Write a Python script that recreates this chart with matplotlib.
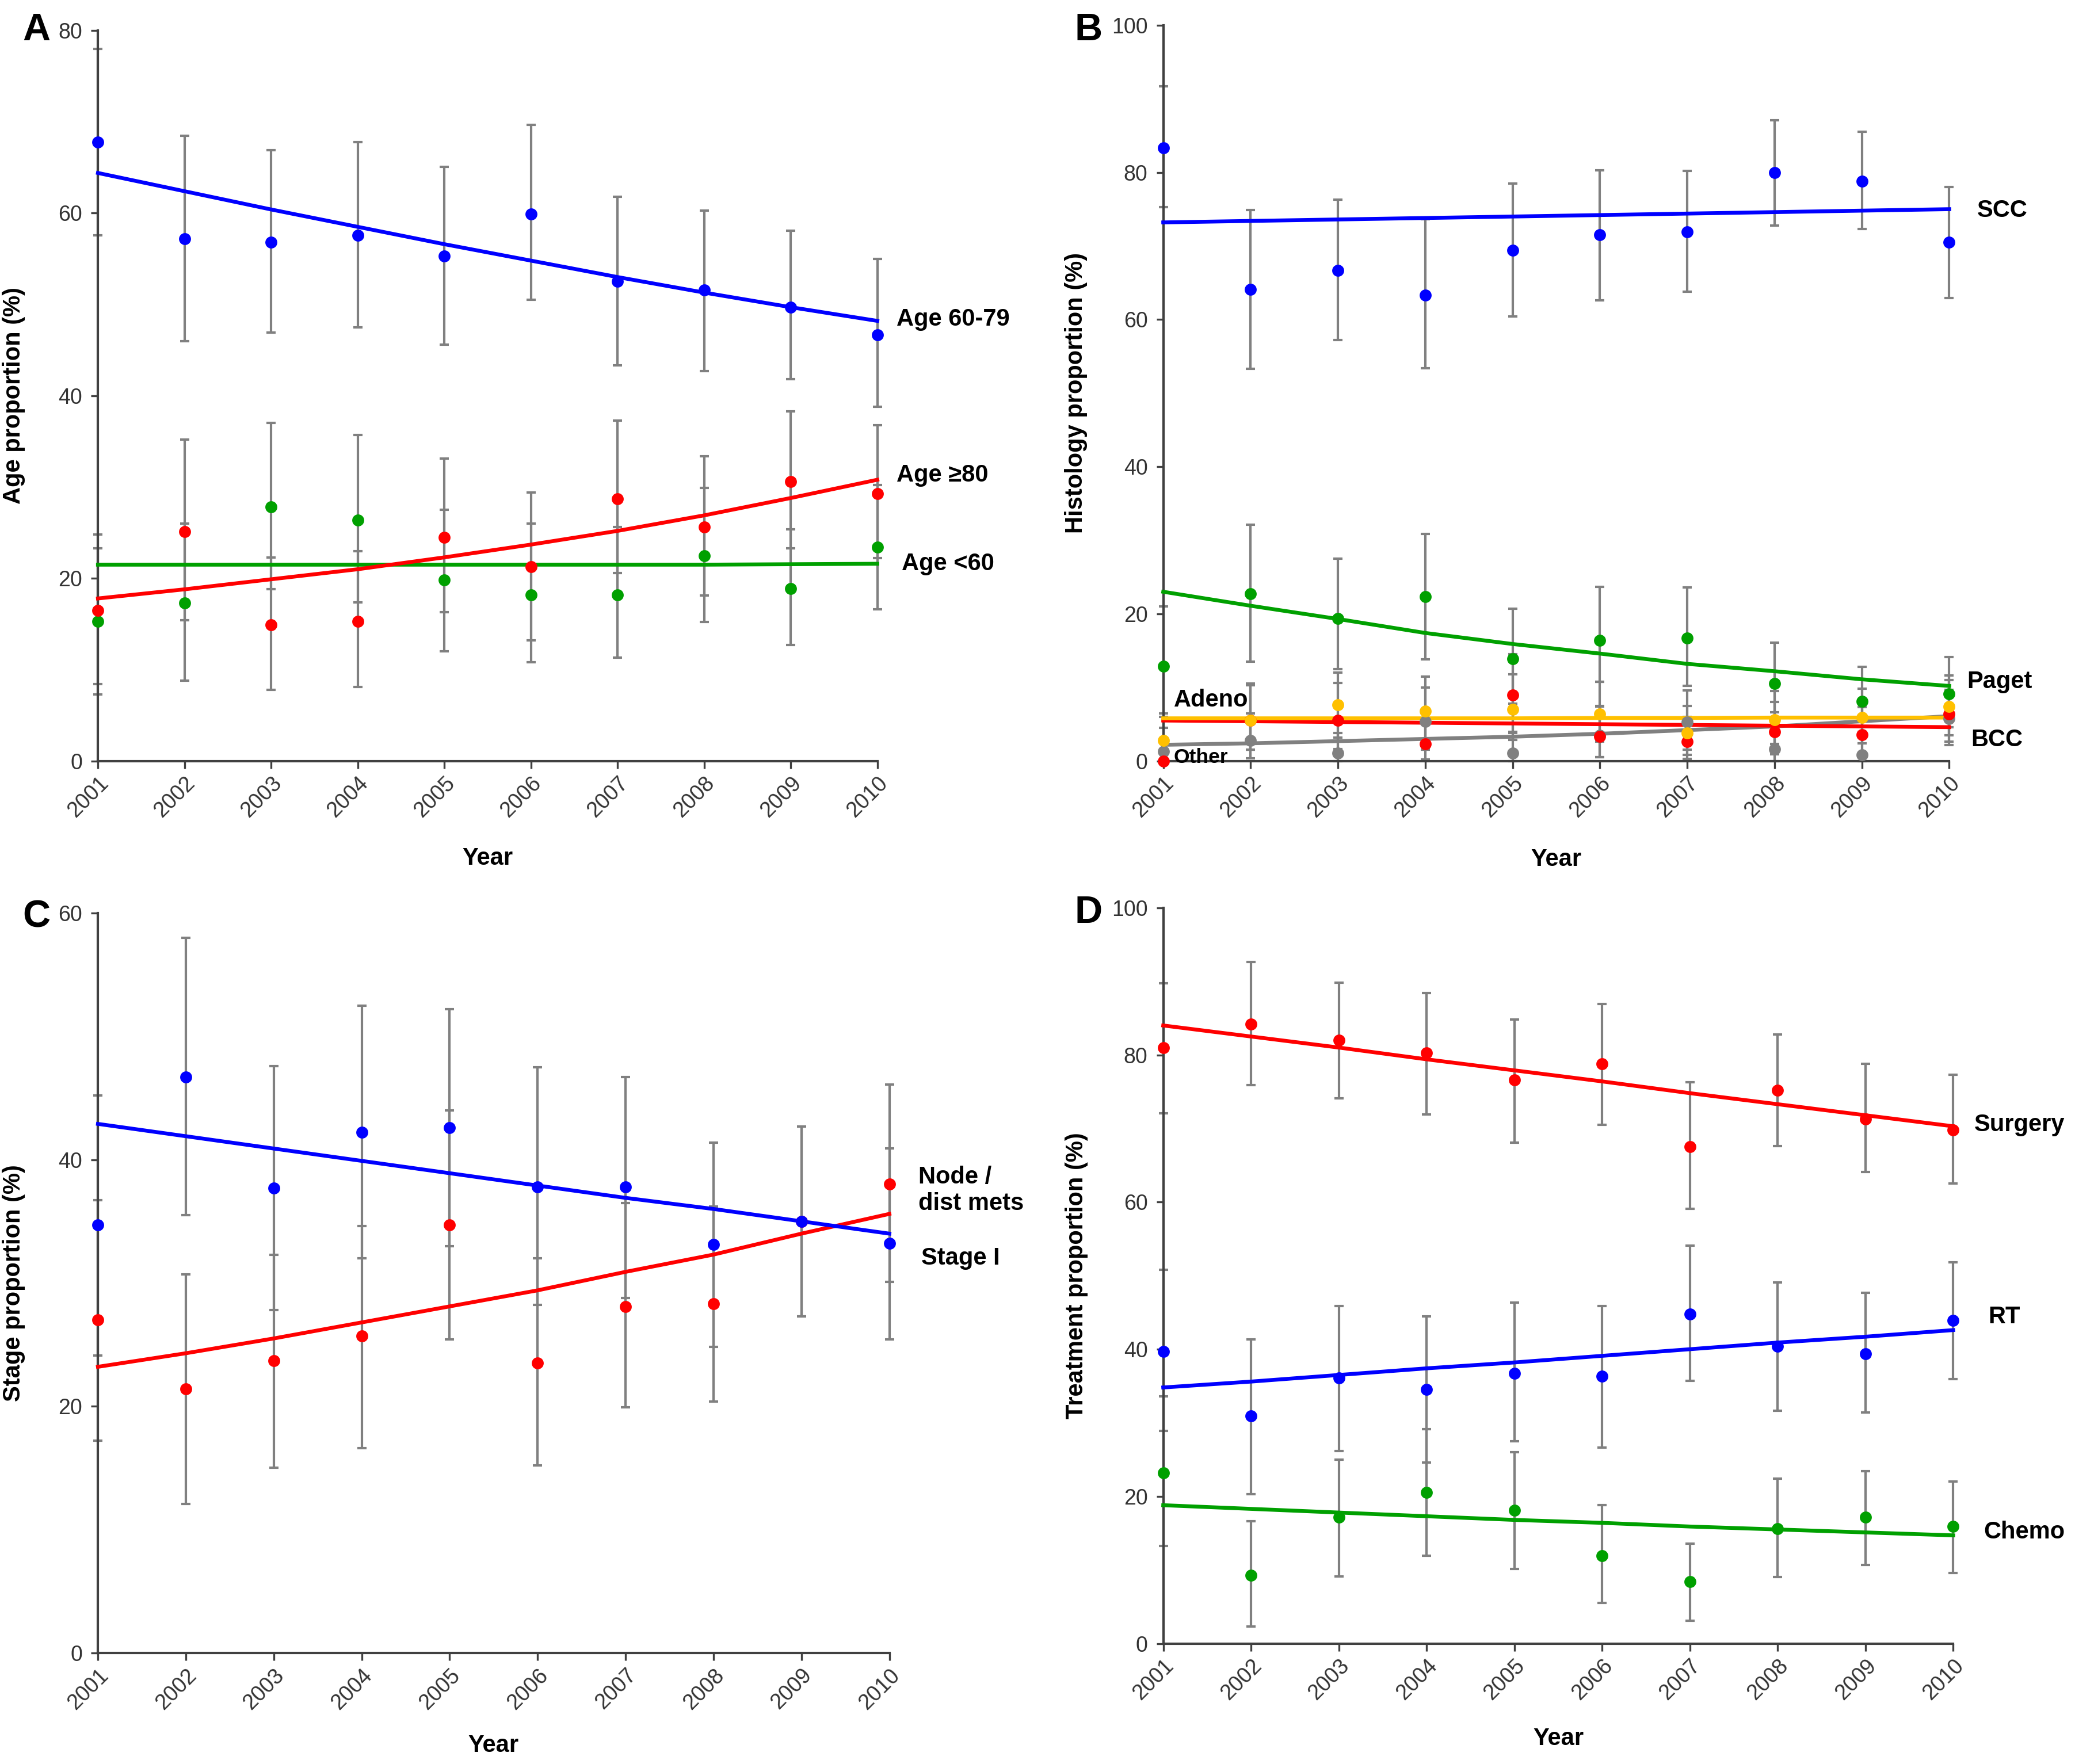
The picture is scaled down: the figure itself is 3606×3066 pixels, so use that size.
import matplotlib
matplotlib.use("Agg")
import matplotlib.pyplot as plt

plt.rcParams['font.family'] = ['Liberation Sans Narrow', 'Liberation Sans', 'DejaVu Sans']

years = [2001, 2002, 2003, 2004, 2005, 2006, 2007, 2008, 2009, 2010]

# Panel A - age
age_mid = [67.8, 57.2, 56.8, 57.6, 55.3, 59.9, 52.5, 51.6, 49.7, 46.7]
age_mid_lo = [57.6, 46.0, 46.9, 47.5, 45.6, 50.5, 43.3, 42.7, 41.8, 38.8]
age_mid_hi = [78.0, 68.5, 66.9, 67.8, 65.1, 69.7, 61.8, 60.3, 58.1, 55.0]
age_mid_trend = [64.4, 62.4, 60.4, 58.5, 56.6, 54.8, 53.0, 51.3, 49.7, 48.2]
age_old = [16.5, 25.1, 14.9, 15.3, 24.5, 21.3, 28.7, 25.6, 30.6, 29.3]
age_old_lo = [8.4, 15.4, 7.8, 8.1, 16.3, 13.2, 20.6, 18.1, 23.3, 22.2]
age_old_hi = [24.8, 35.2, 22.3, 23.0, 33.1, 29.4, 37.3, 33.4, 38.3, 36.8]
age_old_trend = [17.8, 18.8, 19.9, 21.0, 22.3, 23.7, 25.2, 26.9, 28.8, 30.8]
age_young = [15.3, 17.3, 27.8, 26.4, 19.8, 18.2, 18.2, 22.5, 18.9, 23.4]
age_young_lo = [7.3, 8.8, 18.8, 17.4, 12.0, 10.8, 11.3, 15.2, 12.7, 16.6]
age_young_hi = [23.3, 26.0, 37.0, 35.7, 27.5, 26.0, 25.6, 29.9, 25.4, 30.2]
age_young_trend = [21.5, 21.5, 21.5, 21.5, 21.5, 21.5, 21.5, 21.5, 21.55, 21.6]

# Panel B - histology
scc = [83.3, 64.1, 66.7, 63.3, 69.4, 71.5, 71.9, 80.0, 78.8, 70.5]
scc_lo = [75.3, 53.3, 57.2, 53.4, 60.4, 62.6, 63.8, 72.8, 72.3, 62.9]
scc_hi = [91.7, 74.9, 76.3, 73.6, 78.5, 80.3, 80.2, 87.1, 85.5, 78.0]
scc_trend = [73.2, 73.4, 73.6, 73.8, 74.0, 74.2, 74.4, 74.6, 74.8, 75.0]
paget = [12.9, 22.7, 19.4, 22.3, 13.9, 16.4, 16.7, 10.5, 8.1, 9.1]
paget_lo = [6.5, 13.5, 12.5, 13.8, 7.8, 10.8, 10.2, 6.6, 4.0, 4.6]
paget_hi = [21.0, 32.1, 27.5, 30.9, 20.7, 23.7, 23.6, 16.1, 12.8, 14.1]
paget_trend = [23.0, 21.1, 19.3, 17.4, 15.9, 14.6, 13.2, 12.2, 11.1, 10.2]
adeno = [2.8, 5.5, 7.6, 6.8, 7.0, 6.4, 3.8, 5.6, 5.9, 7.4]
adeno_lo = [0.3, 1.5, 3.2, 2.8, 2.9, 2.6, 0.8, 2.3, 2.4, 3.5]
adeno_hi = [6.0, 10.3, 12.0, 11.5, 11.8, 10.8, 7.5, 9.5, 9.8, 11.6]
adeno_trend = [5.8, 5.8, 5.8, 5.8, 5.8, 5.85, 5.85, 5.9, 5.9, 5.9]
bcc = [0.0, 5.5, 5.5, 2.3, 9.0, 3.3, 2.6, 4.0, 3.6, 6.4]
bcc_lo = [0.0, 1.5, 1.6, 0.2, 4.0, 0.5, 0.3, 0.9, 0.6, 2.6]
bcc_hi = [0.0, 10.5, 10.6, 5.8, 14.5, 7.5, 6.0, 8.0, 7.3, 11.0]
bcc_trend = [5.5, 5.4, 5.3, 5.2, 5.1, 5.0, 4.9, 4.8, 4.7, 4.6]
other = [1.3, 2.8, 1.1, 5.4, 1.1, 3.5, 5.3, 1.6, 0.8, 5.8]
other_lo = [0.0, 0.4, 0.0, 1.5, 0.0, 0.5, 1.5, 0.0, 0.0, 2.2]
other_hi = [4.5, 6.5, 3.8, 10.0, 3.8, 7.4, 9.6, 4.8, 3.2, 9.7]
other_trend = [2.2, 2.4, 2.7, 3.0, 3.3, 3.7, 4.2, 4.7, 5.4, 6.1]

# Panel C - stage
stage1 = [34.7, 46.7, 37.7, 42.2, 42.6, 37.8, 37.8, 33.1, 35.0, 33.2]
stage1_lo = [24.1, 35.5, 27.8, 32.0, 33.0, 28.2, 28.8, 24.8, 27.3, 25.4]
stage1_hi = [45.2, 58.0, 47.6, 52.5, 52.2, 47.5, 46.7, 41.4, 42.7, 40.9]
stage1_trend = [42.9, 41.9, 40.9, 39.9, 38.9, 37.9, 36.9, 36.0, 35.0, 34.0]
node = [27.0, 21.4, 23.7, 25.7, 34.7, 23.5, 28.1, 28.3, 35.0, 38.0]
node_lo = [17.2, 12.1, 15.0, 16.6, 25.4, 15.2, 19.9, 20.4, 27.3, 30.1]
node_hi = [36.7, 30.7, 32.3, 34.6, 44.0, 32.0, 36.5, 36.2, 42.7, 46.1]
node_trend = [23.2, 24.3, 25.5, 26.8, 28.1, 29.4, 30.9, 32.3, 34.0, 35.6]

# Panel D - treatment
surgery = [81.0, 84.2, 82.0, 80.3, 76.6, 78.8, 67.5, 75.2, 71.3, 69.8]
surgery_lo = [72.1, 75.9, 74.1, 71.9, 68.1, 70.5, 59.1, 67.6, 64.1, 62.5]
surgery_hi = [89.7, 92.6, 89.8, 88.4, 84.8, 86.9, 76.3, 82.8, 78.8, 77.3]
surgery_trend = [84.0, 82.5, 81.0, 79.4, 77.9, 76.4, 74.8, 73.3, 71.8, 70.3]
rt = [39.7, 30.9, 36.1, 34.5, 36.7, 36.3, 44.8, 40.4, 39.4, 43.9]
rt_lo = [28.9, 20.3, 26.2, 24.6, 27.5, 26.6, 35.7, 31.6, 31.4, 35.9]
rt_hi = [50.8, 41.3, 45.9, 44.5, 46.3, 45.9, 54.1, 49.1, 47.7, 51.8]
rt_trend = [34.8, 35.6, 36.5, 37.4, 38.2, 39.1, 40.0, 40.9, 41.7, 42.6]
chemo = [23.2, 9.3, 17.2, 20.5, 18.1, 11.9, 8.4, 15.6, 17.2, 15.9]
chemo_lo = [13.3, 2.3, 9.1, 11.9, 10.1, 5.5, 3.1, 9.0, 10.7, 9.6]
chemo_hi = [33.6, 16.6, 25.0, 29.1, 26.0, 18.8, 13.6, 22.4, 23.4, 22.0]
chemo_trend = [18.8, 18.3, 17.8, 17.3, 16.8, 16.4, 15.9, 15.5, 15.1, 14.7]

BLUE = '#0000FF'
RED = '#FF0000'
GREEN = '#00A000'
YELLOW = '#FFC000'
GREY = '#808080'

fig = plt.figure(figsize=(12.02, 10.22), dpi=300)


def setup_axes(rect, ymax, ystep, ylabel, ylab_x, xlab_y):
    ax = fig.add_axes(rect)
    ax.set_xlim(2001, 2010)
    ax.set_ylim(0, ymax)
    ax.set_xticks(years)
    ax.set_xticklabels([str(y) for y in years], rotation=45, ha='right',
                       rotation_mode='anchor', fontsize=9, color='#333333')
    ax.set_yticks(range(0, ymax + 1, ystep))
    ax.tick_params(axis='y', labelsize=9, labelcolor='#333333', length=3, color='#404040')
    ax.tick_params(axis='x', length=3, color='#404040', pad=2)
    for s in ['top', 'right']:
        ax.spines[s].set_visible(False)
    for s in ['left', 'bottom']:
        ax.spines[s].set_color('#404040')
        ax.spines[s].set_linewidth(1.0)
    ax.set_xlabel('Year', fontsize=10, fontweight='bold', family=['Liberation Sans', 'DejaVu Sans'])
    ax.set_ylabel(ylabel, fontsize=10, fontweight='bold', family=['Liberation Sans', 'DejaVu Sans'])
    ax.yaxis.set_label_coords(ylab_x, 0.5)
    ax.xaxis.set_label_coords(0.5, xlab_y)
    return ax


def series(ax, vals, lo, hi, trend, color):
    yerr = [[v - l for v, l in zip(vals, lo)], [h - v for v, h in zip(vals, hi)]]
    ax.errorbar(years, vals, yerr=yerr, fmt='none', ecolor=GREY, elinewidth=1.0,
                capsize=2, capthick=1.0, clip_on=False, zorder=2)
    ax.plot(years, trend, color=color, lw=1.6, zorder=3, clip_on=False)
    ax.plot(years, vals, 'o', color=color, ms=5, mec='none', zorder=4, clip_on=False)


def label(ax, x, y, txt):
    ax.text(x, y, txt, fontsize=10, fontweight='bold', ha='left', va='center',
            family=['Liberation Sans', 'DejaVu Sans'])


# A
axA = setup_axes([0.0472, 0.5686, 0.3756, 0.4141], 80, 20, 'Age proportion (%)', -0.093, -0.118)
series(axA, age_young, age_young_lo, age_young_hi, age_young_trend, GREEN)
series(axA, age_old, age_old_lo, age_old_hi, age_old_trend, RED)
series(axA, age_mid, age_mid_lo, age_mid_hi, age_mid_trend, BLUE)
label(axA, 2010.22, 48.4, 'Age 60-79')
label(axA, 2010.22, 31.3, 'Age \u226580')
label(axA, 2010.28, 21.6, 'Age <60')

# B
axB = setup_axes([0.5606, 0.5686, 0.3788, 0.4171], 100, 20, 'Histology proportion (%)', -0.096, -0.118)
series(axB, other, other_lo, other_hi, other_trend, GREY)
series(axB, bcc, bcc_lo, bcc_hi, bcc_trend, RED)
series(axB, adeno, adeno_lo, adeno_hi, adeno_trend, YELLOW)
series(axB, paget, paget_lo, paget_hi, paget_trend, GREEN)
series(axB, scc, scc_lo, scc_hi, scc_trend, BLUE)
label(axB, 2010.32, 74.8, 'SCC')
label(axB, 2010.2, 10.8, 'Paget')
label(axB, 2010.25, 2.9, 'BCC')
label(axB, 2001.12, 8.3, 'Adeno')
axB.text(2001.12, 0.5, 'Other', fontsize=8.5, fontweight='bold', ha='left', va='center',
         family=['Liberation Sans', 'DejaVu Sans'])

# C
axC = setup_axes([0.0472, 0.0630, 0.3814, 0.4194], 60, 20, 'Stage proportion (%)', -0.092, -0.11)
series(axC, node, node_lo, node_hi, node_trend, RED)
series(axC, stage1, stage1_lo, stage1_hi, stage1_trend, BLUE)
label(axC, 2010.33, 37.5, 'Node /\ndist mets')
label(axC, 2010.36, 32.0, 'Stage I')

# D
axD = setup_axes([0.5606, 0.0683, 0.3807, 0.4171], 100, 20, 'Treatment proportion (%)', -0.095, -0.114)
series(axD, chemo, chemo_lo, chemo_hi, chemo_trend, GREEN)
series(axD, rt, rt_lo, rt_hi, rt_trend, BLUE)
series(axD, surgery, surgery_lo, surgery_hi, surgery_trend, RED)
label(axD, 2010.24, 70.5, 'Surgery')
label(axD, 2010.4, 44.4, 'RT')
label(axD, 2010.35, 15.1, 'Chemo')

# panel letters
for x, y, t in [(0.0108, 0.9827, 'A'), (0.518, 0.9827, 'B'), (0.0108, 0.480, 'C'), (0.518, 0.4824, 'D')]:
    fig.text(x, y, t, fontsize=16, fontweight='bold', ha='left', va='center',
             family=['Liberation Sans', 'DejaVu Sans'])

fig.savefig('out.png', dpi=300)
